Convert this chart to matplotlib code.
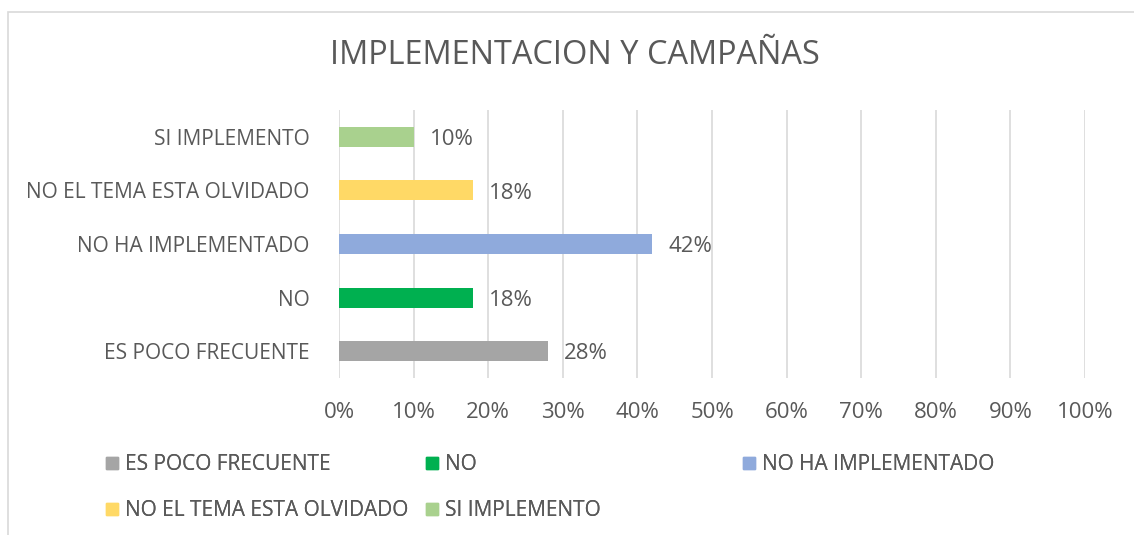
import matplotlib
matplotlib.use("Agg")
import matplotlib.pyplot as plt
from matplotlib.lines import Line2D
from matplotlib.patches import Rectangle
from matplotlib.ticker import PercentFormatter

# data (bottom to top, as drawn by Excel)
categories = ["ES POCO FRECUENTE", "NO", "NO HA IMPLEMENTADO",
              "NO EL TEMA ESTA OLVIDADO", "SI IMPLEMENTO"]
values = [0.28, 0.18, 0.42, 0.18, 0.10]
colors = ["#A5A5A5", "#00B050", "#8FAADC", "#FFD966", "#A9D18E"]
x_ticks = [i / 10 for i in range(11)]

TXT = "#595959"
GRID = "#D9D9D9"

plt.rcParams["font.family"] = ["Open Sans", "DejaVu Sans"]

W, H = 1134, 535
fig = plt.figure(figsize=(W / 100, H / 100), dpi=100)
fig.patch.set_facecolor("white")

# chart area border (only left / top visible in the crop)
fig.add_artist(Rectangle((7.5 / W, -0.1), 1.2, 1 - 11.5 / H + 0.1,
                         transform=fig.transFigure, fill=False,
                         edgecolor=GRID, lw=1.2))

ax = fig.add_axes([339 / W, 1 - 378 / H, (1085 - 339) / W, (378 - 110) / H])
ypos = range(len(categories))
ax.barh(ypos, values, height=0.373, color=colors, zorder=3)

for y, v in zip(ypos, values):
    ax.annotate(f"{v:.0%}", (v, y), xytext=(11.5, -2), textcoords="offset points",
                ha="left", va="center", fontsize=16, color=TXT)

ax.set_xlim(0, 1)
ax.set_ylim(-0.5, len(categories) - 0.5)
ax.set_xticks(x_ticks)
ax.xaxis.set_major_formatter(PercentFormatter(1.0, decimals=0))
ax.set_yticks(list(ypos))
ax.set_yticklabels(categories)
ax.tick_params(axis="both", length=0, labelcolor=TXT)
ax.tick_params(axis="y", pad=21, labelsize=15)
ax.tick_params(axis="x", pad=17, labelsize=16)
ax.grid(axis="x", color=GRID, lw=1.2, zorder=0)
for s in ax.spines.values():
    s.set_visible(False)

fig.text(575 / W, 1 - 56 / H, "IMPLEMENTACION Y CAMPAÑAS", ha="center",
         va="center", fontsize=23.4, color=TXT)

# legend laid out in three equal columns, filled row by row (Excel style)
handles = [Line2D([], [], marker="s", ls="", markersize=8.6, color=c) for c in colors]
col_x = [106, 426, 743]
cols = [[0, 3], [1, 4], [2]]
for cx, idx in zip(col_x, cols):
    leg = fig.legend([handles[i] for i in idx], [categories[i] for i in idx],
                     loc="upper left", bbox_to_anchor=(cx / W, 1 - 454 / H),
                     frameon=False, fontsize=15, labelcolor=TXT,
                     handlelength=0.6, handletextpad=0.33,
                     labelspacing=1.2, borderpad=0, borderaxespad=0)
    fig.add_artist(leg)

fig.savefig("out.png", dpi=100, facecolor="white")
